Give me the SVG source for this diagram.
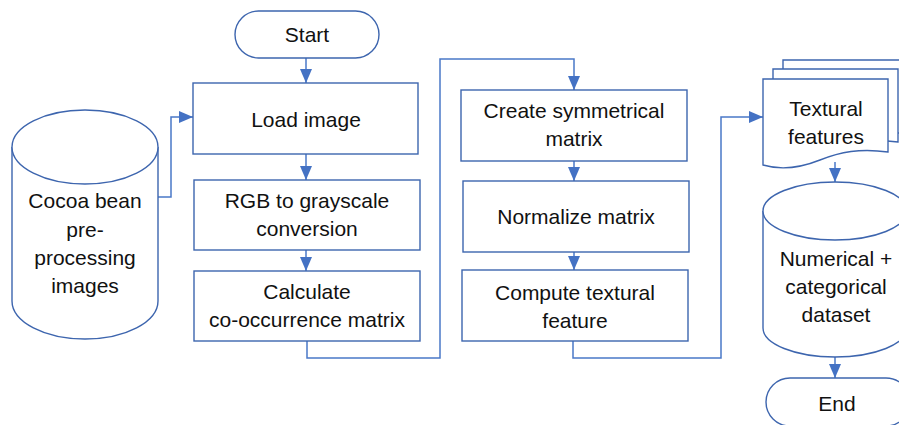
<svg xmlns="http://www.w3.org/2000/svg" width="899" height="425" viewBox="0 0 899 425">
<defs>
<style>
.s{fill:#fff;stroke:#3D65AE;stroke-width:1.4}
.c{fill:none;stroke:#4A78C8;stroke-width:1.5}
.t{font-family:"Liberation Sans",Arial,sans-serif;font-size:21px;fill:#111;text-anchor:middle}
</style>
<marker id="a" viewBox="0 0 14 12" refX="14" refY="6" markerWidth="14" markerHeight="12" markerUnits="userSpaceOnUse" orient="auto">
<path d="M0,0 L14,6 L0,12 Z" fill="#4472C4"/>
</marker>
</defs>
<rect width="899" height="425" fill="#fff"/>
<g id="connectors">
<path class="c" d="M306,58 V83" marker-end="url(#a)"/>
<path class="c" d="M306,154 V180" marker-end="url(#a)"/>
<path class="c" d="M306,250 V271" marker-end="url(#a)"/>
<path class="c" d="M307,341 V358 H440 V59 H574 V90" marker-end="url(#a)"/>
<path class="c" d="M158,197 H171 V117 H193" marker-end="url(#a)"/>
<path class="c" d="M574,161 V181" marker-end="url(#a)"/>
<path class="c" d="M574,252 V270" marker-end="url(#a)"/>
<path class="c" d="M573,341 V358 H721 V117 H763" marker-end="url(#a)"/>
<path class="c" d="M835,162 V182" marker-end="url(#a)"/>
<path class="c" d="M835,357 V378" marker-end="url(#a)"/>
</g>
<g id="start">
<rect class="s" x="235" y="11" width="144" height="47" rx="23.5"/>
<text class="t" x="307" y="42">Start</text>
</g>
<g id="load">
<rect class="s" x="193" y="83" width="225" height="71"/>
<text class="t" x="306" y="127">Load image</text>
</g>
<g id="rgb">
<rect class="s" x="194" y="180" width="226" height="70"/>
<text class="t" x="307" y="208">RGB to grayscale</text>
<text class="t" x="307" y="236">conversion</text>
</g>
<g id="calc">
<rect class="s" x="194" y="271" width="226" height="70"/>
<text class="t" x="307" y="299">Calculate</text>
<text class="t" x="307" y="327">co-occurrence matrix</text>
</g>
<g id="cocoa">
<path class="s" d="M12,147 V301 A73,38 0 0 0 158,301 V147"/>
<ellipse class="s" cx="85" cy="147" rx="73" ry="37"/>
<text class="t" x="85" y="208">Cocoa bean</text>
<text class="t" x="85" y="237">pre-</text>
<text class="t" x="85" y="265">processing</text>
<text class="t" x="85" y="293">images</text>
</g>
<g id="symm">
<rect class="s" x="461" y="90" width="226" height="71"/>
<text class="t" x="574" y="118">Create symmetrical</text>
<text class="t" x="574" y="146">matrix</text>
</g>
<g id="norm">
<rect class="s" x="463" y="181" width="226" height="71"/>
<text class="t" x="576" y="224">Normalize matrix</text>
</g>
<g id="compute">
<rect class="s" x="462" y="270" width="226" height="71"/>
<text class="t" x="575" y="300">Compute textural</text>
<text class="t" x="575" y="328">feature</text>
</g>
<g id="textural">
<path class="s" d="M783,60 H920 V133 H783 Z"/>
<path class="s" d="M773,69 H898 V142 C870,138 850,142 830,150 C810,158 790,160 773,155 Z"/>
<path class="s" d="M763,79 H888 V152 C860,148 840,152 820,160 C800,168 780,170 763,165 Z"/>
<text class="t" x="826" y="116">Textural</text>
<text class="t" x="826" y="144">features</text>
</g>
<g id="dataset">
<path class="s" d="M763,211 V328 A72,29 0 0 0 907,328 V211"/>
<ellipse class="s" cx="835" cy="211" rx="72" ry="29"/>
<text class="t" x="836" y="266">Numerical +</text>
<text class="t" x="836" y="294">categorical</text>
<text class="t" x="836" y="322">dataset</text>
</g>
<g id="end">
<rect class="s" x="766" y="378" width="144" height="48" rx="24"/>
<text class="t" x="837" y="411">End</text>
</g>
</svg>
